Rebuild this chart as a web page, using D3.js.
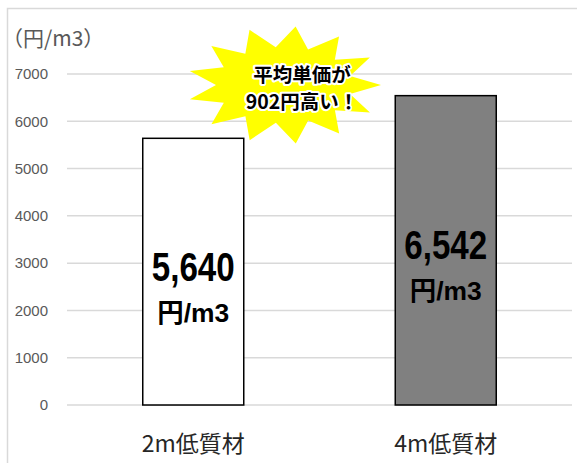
<!DOCTYPE html>
<html>
<head>
    <meta charset="utf-8">
    <script src="https://cdn.jsdelivr.net/npm/d3@7"></script>
    <style type="text/css">
        body { margin: 0; background: #fff; }
        .chart { display: block; }
        .tick-label { font-family: "Liberation Sans", Arial, sans-serif; font-size: 15px; fill: #595959; }
        .cat-label { font-family: "Noto Sans CJK JP", sans-serif; font-size: 23px; fill: #262626; }
        .unit { font-family: "Noto Sans CJK JP", sans-serif; font-size: 21px; fill: #595959; }
        .val { font-family: "Liberation Sans", "Noto Sans CJK JP", sans-serif; fill: #000; }
        .burst-text { font-family: "Noto Sans CJK JP", sans-serif; font-weight: 700; font-size: 19.5px;
            fill: #000; stroke: #fff; stroke-width: 4px; paint-order: stroke; stroke-linejoin: round; }
    </style>
</head>
<body>
    <svg class="chart"></svg>

    <script type="text/javascript">
    // data
    var categories = ['2m低質材', '4m低質材'];
    var prices = [5640, 6542];
    var barColors = ['#ffffff', '#808080'];
    var yTicks = [0, 1000, 2000, 3000, 4000, 5000, 6000, 7000];
    var unitLabel = '（円/m3）';
    var burstLines = ['平均単価が', '902円高い！'];

    var width = 577;
    var height = 463;

    var svg = d3.select('.chart')
        .attr('width', width)
        .attr('height', height);

    // outer chart border
    svg.append('rect')
        .attr('x', 7.5).attr('y', 8.5)
        .attr('width', width + 10).attr('height', height + 10)
        .attr('fill', 'none')
        .attr('stroke', '#d9d9d9')
        .attr('stroke-width', 1.5);

    var x = d3.scaleBand()
        .domain(categories)
        .range([67, 572])
        .paddingInner(0.6)
        .paddingOuter(0.3);

    var y = d3.scaleLinear()
        .domain([0, 7000])
        .range([405, 74]);

    // gridlines
    svg.append('g').selectAll('line')
        .data(yTicks)
        .enter().append('line')
            .attr('x1', 67).attr('x2', 572)
            .attr('y1', function (d) { return y(d); })
            .attr('y2', function (d) { return y(d); })
            .attr('stroke', '#d9d9d9')
            .attr('stroke-width', 1.5);

    svg.append('g').selectAll('text')
        .data(yTicks)
        .enter().append('text')
            .attr('class', 'tick-label')
            .attr('x', 48)
            .attr('y', function (d) { return y(d); })
            .attr('dy', '0.35em')
            .attr('text-anchor', 'end')
            .text(function (d) { return d; });

    svg.append('text')
        .attr('class', 'unit')
        .attr('x', 2)
        .attr('y', 46)
        .text(unitLabel);

    // bars
    var bars = svg.append('g').selectAll('g')
        .data(prices)
        .enter().append('g');

    bars.append('rect')
        .attr('x', function (d, i) { return x(categories[i]); })
        .attr('y', function (d) { return y(d); })
        .attr('width', x.bandwidth())
        .attr('height', function (d) { return y(0) - y(d); })
        .attr('fill', function (d, i) { return barColors[i]; })
        .attr('stroke', '#000')
        .attr('stroke-width', 1.5);

    bars.append('text')
        .attr('class', 'val')
        .attr('x', function (d, i) { return x(categories[i]) + x.bandwidth() / 2; })
        .attr('y', function (d) { return (y(d) + y(0)) / 2 + 9; })
        .attr('text-anchor', 'middle')
        .attr('textLength', 83)
        .attr('lengthAdjust', 'spacingAndGlyphs')
        .style('font-size', '41px')
        .style('font-weight', 'bold')
        .text(function (d) { return d3.format(',')(d); });

    bars.append('text')
        .attr('class', 'val')
        .attr('x', function (d, i) { return x(categories[i]) + x.bandwidth() / 2; })
        .attr('y', function (d) { return (y(d) + y(0)) / 2 + 50; })
        .attr('text-anchor', 'middle')
        .attr('textLength', 72)
        .attr('lengthAdjust', 'spacingAndGlyphs')
        .style('font-size', '26px')
        .style('font-weight', 'bold')
        .text('円/m3');

    // category labels
    svg.append('g').selectAll('text')
        .data(categories)
        .enter().append('text')
            .attr('class', 'cat-label')
            .attr('x', function (d) { return x(d) + x.bandwidth() / 2; })
            .attr('y', 452)
            .attr('text-anchor', 'middle')
            .text(function (d) { return d; });

    // starburst callout
    var cx = 284, cy = 85;
    var spikes = 13;
    var pts = d3.range(spikes * 2).map(function (i) {
        var a = -Math.PI / 2 + i * Math.PI / spikes + 0.12;
        var outer = i % 2 === 0;
        var rx = outer ? 97 : 68;
        var ry = outer ? 59 : 38;
        return [cx + rx * Math.cos(a), cy + ry * Math.sin(a)];
    });

    svg.append('path')
        .attr('d', d3.line().curve(d3.curveLinearClosed)(pts))
        .attr('fill', '#ffff00');

    svg.append('g').selectAll('text')
        .data(burstLines)
        .enter().append('text')
            .attr('class', 'burst-text')
            .attr('x', 302)
            .attr('y', function (d, i) { return 82 + i * 27; })
            .attr('text-anchor', 'middle')
            .text(function (d) { return d; });
    </script>
</body>
</html>
